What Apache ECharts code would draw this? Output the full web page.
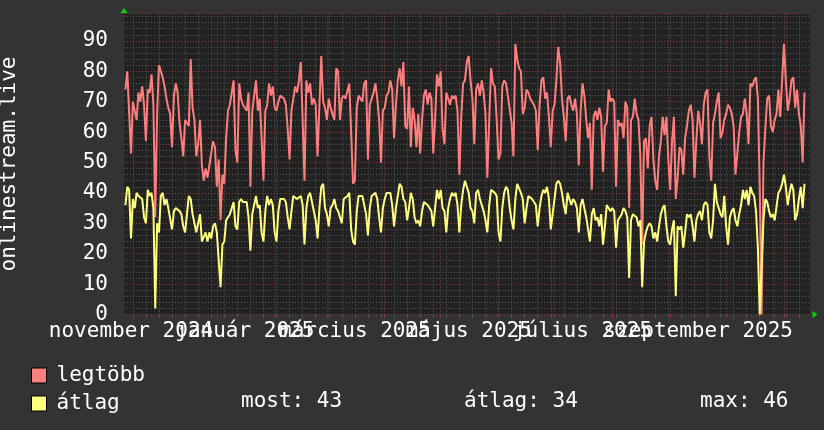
<!DOCTYPE html>
<html>
<head>
<meta charset="utf-8">
<script src="https://cdn.jsdelivr.net/npm/echarts@6/dist/echarts.min.js"></script>
<style>
html,body{margin:0;padding:0;background:#333333;}
#chart{width:824px;height:430px;}
</style>
</head>
<body>
<div id="chart"></div>
<script>
// ---- data (daily values, first day below) ----
const firstDay = '2024-11-13';
const legtobb = [
74,80,80,53,70,70,64,73,70,75,
69,57,74,73,79,69,32,66,82,82,
78,75,71,68,66,55,72,76,73,63,
58,52,64,63,62,84,68,64,52,56,
64,49,44,48,45,49,53,57,55,42,
51,31,46,43,58,67,69,73,77,54,
50,76,71,69,68,67,73,42,67,72,
77,67,71,58,44,67,69,76,72,75,
68,67,70,72,72,71,69,61,51,67,
71,75,73,77,83,64,44,77,73,76,
69,71,69,52,69,85,70,68,64,71,
68,66,64,81,80,64,71,72,71,71,
76,60,43,44,68,72,71,70,76,77,
51,69,71,73,76,71,64,50,67,68,
72,73,77,74,58,69,77,81,75,83,
62,61,75,55,68,64,55,66,53,64,
72,74,69,73,71,53,64,79,75,80,
61,56,73,73,69,72,71,72,67,46,
65,76,77,83,85,77,71,56,74,76,
72,77,73,66,45,64,81,76,75,64,
51,53,75,77,76,72,72,63,52,89,
84,81,80,66,68,74,73,71,71,69,
67,54,69,77,78,71,73,65,55,67,
69,77,88,83,71,65,57,71,72,69,
67,71,66,49,67,76,72,64,58,63,
41,65,67,64,68,65,47,62,63,74,
70,71,70,42,64,62,63,58,70,68,
35,64,65,71,66,64,52,23,57,58,
48,62,65,51,44,41,52,57,65,59,
65,51,41,57,65,38,45,55,54,46,
58,62,67,69,64,45,57,67,63,56,
69,73,74,52,44,63,66,70,73,58,
60,64,66,69,68,66,62,46,53,60,
65,66,71,66,56,76,75,77,78,71,
42,0,50,61,71,72,62,60,64,66,
74,65,77,89,77,67,71,77,78,68,
74,66,62,50,73
];
const atlag = [
36,42,41,25,38,35,40,39,39,38,
32,30,41,39,40,35,2,30,27,39,
40,36,38,35,35,28,34,35,35,34,
33,29,27,33,39,38,33,33,27,30,
33,24,24,27,24,27,25,29,30,27,
27,9,23,24,31,32,33,35,37,29,
28,37,38,37,37,37,32,21,33,36,
39,35,36,27,24,34,39,36,38,36,
27,24,34,38,38,38,37,32,28,34,
39,39,38,38,39,36,23,35,39,40,
37,34,31,25,35,42,43,35,33,29,
35,36,38,35,34,32,30,38,38,39,
40,28,24,23,34,39,39,39,39,33,
26,35,39,39,40,38,32,27,35,38,
40,40,40,36,29,35,39,43,42,38,
37,31,35,40,38,32,30,31,29,34,
37,37,36,35,34,29,35,41,38,41,
35,34,27,35,38,40,39,40,36,27,
36,41,44,42,40,35,34,30,40,41,
38,38,34,31,27,36,41,41,40,39,
27,24,35,40,42,41,35,31,28,38,
43,43,40,38,30,35,39,39,38,38,
36,29,35,39,41,40,42,38,28,33,
38,43,44,43,40,36,33,40,40,36,
38,37,35,27,36,38,38,32,32,24,
33,35,31,32,29,33,23,29,36,35,
34,35,34,22,31,32,33,35,34,32,
12,31,33,33,32,29,31,9,24,27,
29,30,29,25,27,24,29,33,35,36,
29,24,23,28,31,6,29,28,29,22,
27,33,32,33,29,24,31,33,34,31,
36,37,36,27,25,31,43,37,35,33,
32,39,29,23,32,34,35,31,29,33,
36,41,38,41,36,42,40,39,34,22,
0,0,31,38,37,34,32,33,31,31,
40,41,43,46,42,36,40,43,41,31,
33,38,42,35,43
];
const seriesNames = ['legtöbb', 'átlag'];
const statTexts = ['most: 43', 'átlag: 34', 'max: 46'];
const yTitle = 'onlinestream.live';
const monthStarts = ['2024-12-01','2025-01-01','2025-02-01','2025-03-01','2025-04-01','2025-05-01',
                     '2025-06-01','2025-07-01','2025-08-01','2025-09-01','2025-10-01','2025-11-01'];
// month labels, split in two rows of alternating labels (they overlap like the original)
const labelDatesA = ['2024-11-16','2025-03-16','2025-07-16'];
const labelTextsA = ['november 2024','március 2025','július 2025'];
const labelDatesB = ['2025-01-16','2025-05-16','2025-09-16'];
const labelTextsB = ['január 2025','május 2025','szeptember 2025'];
const firstWeekLine = '2024-11-17';
const yTickValues = [0,10,20,30,40,50,60,70,80,90];

// ---- helpers ----
const DAY = 86400000;
function utc(s){ const p = s.split('-').map(Number); return Date.UTC(p[0], p[1]-1, p[2]); }
const t0 = utc(firstDay);
const xMin = t0 - 0.75 * DAY;
const xMax = t0 + 366.94 * DAY;
const dates = legtobb.map((_, i) => t0 + i * DAY);
const weekLines = [];
for (let t = utc(firstWeekLine); t < xMax; t += 7 * DAY) weekLines.push(t);
const monthLines = monthStarts.map(utc);
function makeLabeler(datesArr, textsArr){
  const pos = datesArr.map(utc);
  return {
    pos: pos,
    fmt: function (v) {
      let best = 0, bd = Infinity;
      pos.forEach((t, i) => { const d = Math.abs(t - v); if (d < bd) { bd = d; best = i; } });
      return bd < DAY ? textsArr[best] : '';
    }
  };
}
const labA = makeLabeler(labelDatesA, labelTextsA);
const labB = makeLabeler(labelDatesB, labelTextsB);

const FONT = '"DejaVu Sans Mono", monospace';
const RED = '#ff7f7f';
const YELLOW = '#ffff7f';
const GRID_MINOR = '#575757';
const GRID_MAJOR = '#8e3a3a';
const ARROW = '#00d000';

function labelAxis(lab){
  return {
    type: 'value', min: xMin, max: xMax, position: 'bottom', scale: true,
    axisLine: {show: false}, axisTick: {show: false}, splitLine: {show: false},
    axisLabel: {
      show: true, customValues: lab.pos, color: '#ffffff', fontSize: 21, fontFamily: FONT, margin: 7,
      showMinLabel: true, showMaxLabel: true, hideOverlap: false, formatter: lab.fmt
    }
  };
}

const legendBase = {
  orient: 'vertical', left: 31, itemWidth: 15, itemHeight: 15,
  icon: 'rect', selectedMode: false, padding: 0,
  itemStyle: {borderColor: '#000000', borderWidth: 1},
  textStyle: {color: '#ffffff', fontSize: 21, fontFamily: FONT, lineHeight: 15, padding: [0, 0, 0, 5]}
};

const chart = echarts.init(document.getElementById('chart'), null, {renderer: 'canvas'});
chart.setOption({
  backgroundColor: '#333333',
  animation: false,
  textStyle: {fontFamily: FONT},
  grid: {left: 124, right: 14, top: 13.5, bottom: 115.5, show: true, backgroundColor: '#222222', borderWidth: 0,
         containLabel: false, outerBoundsMode: 'none'},
  xAxis: [
    {
      type: 'value', min: xMin, max: xMax, position: 'bottom', scale: true,
      axisLine: {show: false},
      axisTick: {show: true, customValues: weekLines, length: 3, lineStyle: {color: GRID_MINOR}},
      axisLabel: {show: false},
      splitLine: {show: true, lineStyle: {color: GRID_MINOR, type: [1, 2], width: 1}}
    },
    {
      type: 'value', min: xMin, max: xMax, position: 'bottom', scale: true,
      axisLine: {show: true, lineStyle: {color: ARROW, width: 0}, symbol: ['none', 'triangle'], symbolSize: [7, 5], symbolOffset: [0, 5]},
      axisTick: {show: true, customValues: monthLines, length: 3, lineStyle: {color: GRID_MAJOR}},
      axisLabel: {show: false},
      splitLine: {show: true, lineStyle: {color: GRID_MAJOR, type: [1, 2], width: 1}}
    },
    labelAxis(labA),
    labelAxis(labB)
  ],
  yAxis: {
    type: 'value', min: 0, max: 99, interval: 2,
    name: yTitle, nameLocation: 'middle', nameGap: 104, nameRotate: 90,
    nameTextStyle: {color: '#ffffff', fontSize: 21, fontFamily: FONT},
    axisLine: {show: true, lineStyle: {color: ARROW, width: 0}, symbol: ['none', 'triangle'], symbolSize: [7, 5], symbolOffset: [0, 3]},
    axisTick: {show: false},
    axisLabel: {
      color: '#ffffff', fontSize: 21, fontFamily: FONT, margin: 16,
      formatter: (v) => yTickValues.indexOf(Math.round(v)) >= 0 && Math.abs(v - Math.round(v)) < 1e-6 ? String(Math.round(v)) : ''
    },
    splitLine: {show: true, lineStyle: {color: [GRID_MAJOR, GRID_MINOR, GRID_MINOR, GRID_MINOR, GRID_MINOR], type: [1, 2], width: 1}}
  },
  legend: [
    Object.assign({}, legendBase, {top: 365, data: [seriesNames[0]]}),
    Object.assign({}, legendBase, {top: 393, data: [seriesNames[1]]})
  ],
  graphic: [
    {type: 'text', x: 241, y: 402, silent: true, style: {text: statTexts[0], fill: '#ffffff', font: '21px ' + FONT, verticalAlign: 'middle'}},
    {type: 'text', x: 464, y: 402, silent: true, style: {text: statTexts[1], fill: '#ffffff', font: '21px ' + FONT, verticalAlign: 'middle'}},
    {type: 'text', x: 700, y: 402, silent: true, style: {text: statTexts[2], fill: '#ffffff', font: '21px ' + FONT, verticalAlign: 'middle'}}
  ],
  series: [
    {
      name: seriesNames[0], type: 'line', xAxisIndex: 1, showSymbol: false, symbol: 'none',
      color: RED, itemStyle: {color: RED}, lineStyle: {color: RED, width: 2}, z: 3,
      data: dates.map((t, i) => [t, legtobb[i]])
    },
    {
      name: seriesNames[1], type: 'line', xAxisIndex: 1, showSymbol: false, symbol: 'none',
      color: YELLOW, itemStyle: {color: YELLOW}, lineStyle: {color: YELLOW, width: 2}, z: 4,
      data: dates.map((t, i) => [t, atlag[i]])
    }
  ]
});
</script>
</body>
</html>
